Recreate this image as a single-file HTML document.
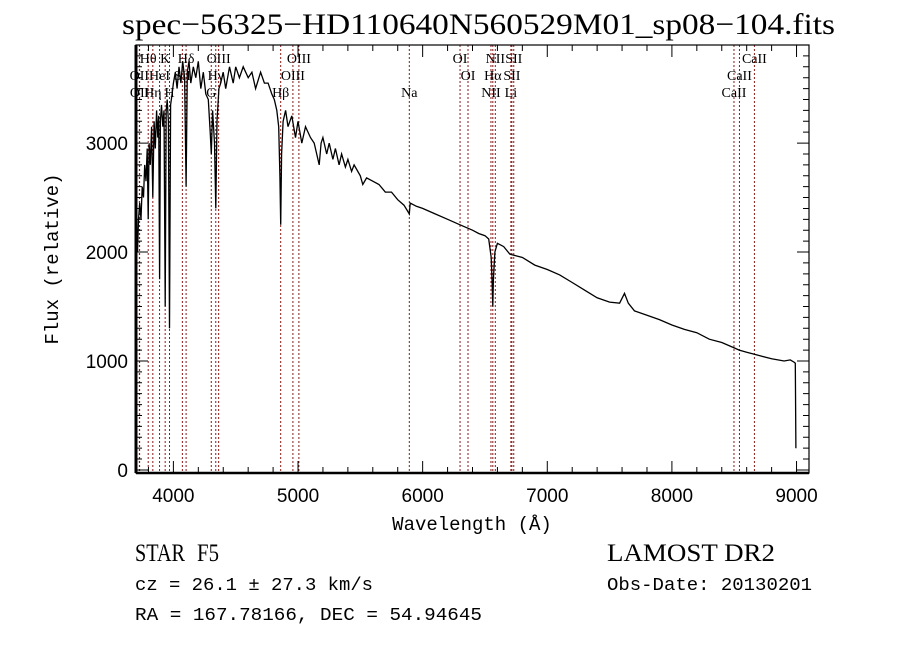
<!DOCTYPE html>
<html><head><meta charset="utf-8"><style>
body{margin:0;background:#fff;width:900px;height:649px;overflow:hidden}
svg{display:block}
.serif{font-family:"Liberation Serif",serif}
.mono{font-family:"Liberation Mono",monospace}
.sans{font-family:"Liberation Sans",sans-serif}
</style></head><body>
<svg id="chart" width="900" height="649" xml:space="preserve">
<text class="serif" x="122" y="34" font-size="30" textLength="713" lengthAdjust="spacingAndGlyphs">spec−56325−HD110640N560529M01_sp08−104.fits</text>
<text class="mono" x="58" y="259" font-size="19" text-anchor="middle" transform="rotate(-90 58 259)">Flux (relative)</text>
<text class="mono" x="472" y="530" font-size="19" text-anchor="middle">Wavelength (Å)</text>
<text class="serif" x="135" y="561" font-size="25" textLength="50" lengthAdjust="spacingAndGlyphs">STAR</text>
<text class="serif" x="197" y="561" font-size="25" textLength="22" lengthAdjust="spacingAndGlyphs">F5</text>
<text class="mono" x="135" y="590" font-size="18" textLength="238" lengthAdjust="spacingAndGlyphs">cz = 26.1 ± 27.3 km/s</text>
<text class="mono" x="135" y="620" font-size="18" textLength="347" lengthAdjust="spacingAndGlyphs">RA = 167.78166, DEC =  54.94645</text>
<text class="serif" x="607" y="561" font-size="25" textLength="168" lengthAdjust="spacingAndGlyphs">LAMOST DR2</text>
<text class="mono" x="607" y="590" font-size="18" textLength="205" lengthAdjust="spacingAndGlyphs">Obs-Date: 20130201</text>
<g id="plot"></g>
</svg>
<script>
const wave = [3700,3702,3705,3712,3720,3730,3740,3750,3760,3770,3780,3790,3798,3805,3815,3825,3835,3845,3855,3865,3875,3882,3889,3896,3905,3915,3925,3934,3942,3950,3960,3969,3978,3990,4000,4015,4030,4045,4060,4075,4090,4102,4112,4125,4140,4160,4180,4200,4220,4240,4260,4280,4295,4304,4315,4330,4340,4350,4365,4380,4400,4420,4450,4480,4500,4530,4560,4600,4630,4660,4700,4730,4760,4790,4810,4830,4845,4855,4861,4868,4880,4900,4920,4950,4980,5000,5030,5060,5100,5130,5170,5185,5200,5230,5250,5280,5300,5330,5350,5380,5400,5430,5450,5500,5520,5550,5600,5650,5700,5750,5800,5850,5893,5900,5950,6000,6100,6200,6300,6400,6450,6500,6530,6550,6558,6563,6568,6580,6600,6650,6700,6800,6900,7000,7100,7200,7300,7400,7500,7580,7620,7650,7700,7800,7900,8000,8100,8200,8300,8400,8500,8540,8600,8700,8800,8900,8950,8980,8990,8995];
const flux = [0,1800,2200,2000,2300,2450,2300,2600,2500,2800,2650,2950,2300,3000,2800,3150,2500,3200,2950,3300,3050,3250,1750,3200,3350,3150,3300,1500,3300,3400,3200,1300,3350,3450,3550,3650,3500,3700,3550,3750,3600,2600,3650,3750,3550,3700,3600,3750,3500,3650,3450,3400,3100,2900,3300,3000,2400,3200,3500,3550,3650,3500,3700,3550,3700,3600,3700,3600,3650,3500,3650,3550,3550,3450,3400,3300,3150,2700,2250,2900,3200,3300,3150,3250,3050,3200,3000,3150,3050,3000,2800,3000,3050,2900,3000,2850,2950,2800,2900,2780,2850,2740,2800,2700,2620,2680,2650,2620,2550,2550,2480,2430,2350,2450,2420,2400,2350,2300,2250,2200,2170,2150,2120,1950,1700,1500,1750,2000,2080,2050,1980,1950,1880,1840,1790,1720,1650,1580,1540,1530,1620,1530,1460,1420,1380,1330,1290,1260,1200,1170,1120,1100,1080,1050,1020,1000,1010,990,980,200];
const lineWave = [3798,3934,4102,4363,5007,6300,6583,6731,8662,3727,3889,4072,4340,4959,6364,6563,6716,8542,3729,3835,3969,4304,4861,5893,6548,6708,8498];
const lineName = ["Hθ","K","Hδ","OIII","OIII","OI","NII","SII","CaII","OII","HeI","SII","Hγ","OIII","OI","Hα","SII","CaII","OII","Hη","H","G","Hβ","Na","NII","Li","CaII"];
const lineRow = [0,0,0,0,0,0,0,0,0,1,1,1,1,1,1,1,1,1,2,2,2,2,2,2,2,2,2];
const xTicks = [4000,5000,6000,7000,8000,9000];
const yTicks = [0,1000,2000,3000];

const X0=136,X1=809,Y0=45,Y1=473, WMIN=3700,WMAX=9100,FMIN=-28,FMAX=3900;
const sx=w=>X0+(w-WMIN)/(WMAX-WMIN)*(X1-X0);
const sy=f=>Y1-(f-FMIN)/(FMAX-FMIN)*(Y1-Y0);
const NS="http://www.w3.org/2000/svg";
const g=document.getElementById('plot');
function mk(t,a){const e=document.createElementNS(NS,t);for(const k in a)e.setAttribute(k,a[k]);g.appendChild(e);return e;}

lineWave.forEach((w,i)=>{
  const l=mk('line',{x1:sx(w),x2:sx(w),y1:Y0,y2:Y1,stroke:'#8b1a1a','stroke-width':1,'stroke-dasharray':'2,2'});
  
  
  const t=mk('text',{x:sx(w),y:63+lineRow[i]*17,'font-size':14,'text-anchor':'middle',class:'serif'});
  t.textContent=lineName[i];
  
  
});

const d=wave.map((w,i)=>(i?'L':'M')+sx(w).toFixed(1)+' '+sy(flux[i]).toFixed(1)).join(' ');
const p=mk('path',{d:d,fill:'none',stroke:'#000','stroke-width':1.3});



const fr=mk('rect',{x:X0,y:Y0,width:X1-X0,height:Y1-Y0,fill:'none',stroke:'#000','stroke-width':1.2});


const la=mk('line',{x1:X0,x2:X0,y1:Y0,y2:Y1,stroke:'#000','stroke-width':3});


const ba=mk('line',{x1:X0,x2:X1,y1:Y1,y2:Y1,stroke:'#000','stroke-width':2.5});



let tk='';
for(let w=3800;w<=9100;w+=200){const x=sx(w),L=(w%1000===0)?12:6;tk+=`M${x} ${Y1}v${-L}M${x} ${Y0}v${L}`;}
for(let f=0;f<=3900;f+=100){const y=sy(f),L=(f%1000===0)?12:6;tk+=`M${X0} ${y}h${L}M${X1} ${y}h${-L}`;}
const tp=mk('path',{d:tk,stroke:'#000','stroke-width':1});



xTicks.forEach(w=>{
  const t=mk('text',{x:sx(w),y:502,'font-size':19,'text-anchor':'middle',class:'sans'});
  t.textContent=w;
  
  
});
yTicks.forEach(f=>{
  const t=mk('text',{x:128,y:sy(f)+7,'font-size':19,'text-anchor':'end',class:'sans'});
  t.textContent=f;
  
  
});
</script>
</body></html>
